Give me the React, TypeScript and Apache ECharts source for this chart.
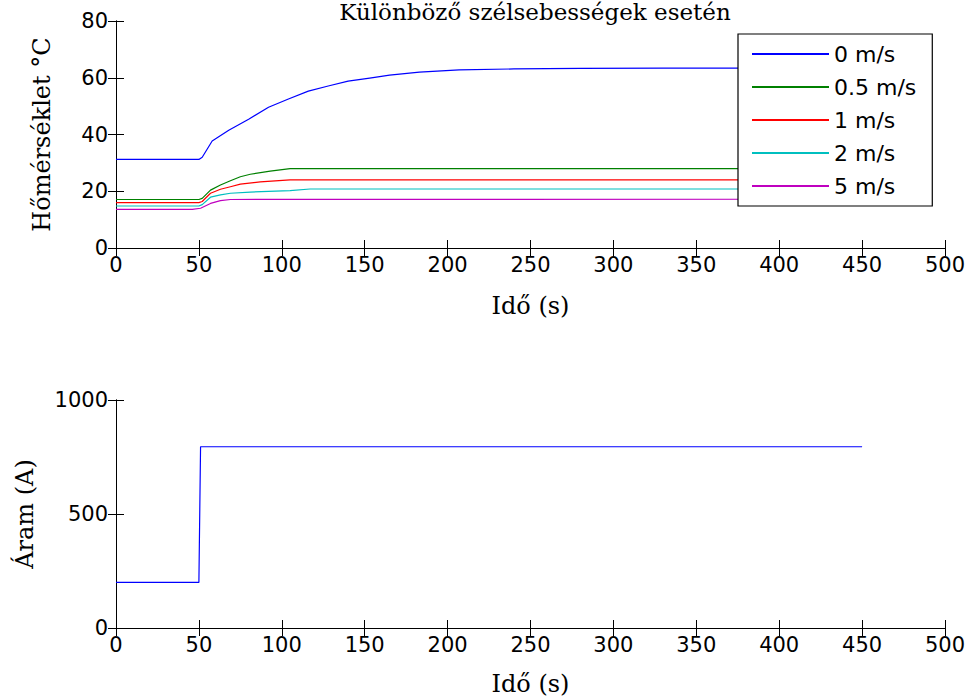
import React, { useEffect, useRef } from "react";
import * as echarts from "echarts";

// ---- Data ----
const titleText = "Különböző szélsebességek esetén";
const seriesNames = ["0 m/s", "0.5 m/s", "1 m/s", "2 m/s", "5 m/s"];
const seriesColors = ["#0000ff", "#008000", "#ff0000", "#00bfbf", "#bf00bf"];

const time0 = [0, 50, 52, 58, 68, 80, 92, 104, 116, 128, 140, 153, 165, 183, 207, 240, 280, 330, 450];
const temp0 = [31.2, 31.2, 32, 37.7, 41.5, 45.4, 49.6, 52.5, 55.3, 57.1, 58.8, 59.9, 60.9, 62.0, 62.8, 63.1, 63.3, 63.4, 63.4];

const time05 = [0, 50, 52, 57, 63, 69, 75, 81, 93, 105, 450];
const temp05 = [17.1, 17.1, 17.5, 20.4, 22.2, 23.7, 25.1, 26.0, 27.1, 28.0, 28.0];

const time1 = [0, 50, 52, 57, 63, 69, 75, 87, 105, 450];
const temp1 = [16.0, 16.0, 16.4, 19.3, 20.7, 21.6, 22.5, 23.3, 24.0, 24.0];

const time2 = [0, 50, 52, 57, 63, 69, 81, 105, 117, 450];
const temp2 = [14.8, 14.8, 15.3, 17.9, 18.7, 19.3, 19.7, 20.2, 20.8, 20.8];

const time5 = [0, 46, 51, 57, 63, 69, 450];
const temp5 = [13.6, 13.6, 14.0, 15.7, 16.7, 17.1, 17.2];

const timeCurrent = [0, 50, 51, 450];
const current = [200, 200, 795, 795];

const xTicks = { min: 0, max: 500, interval: 50 };
const yTempTicks = { min: 0, max: 80, interval: 20 };
const yCurTicks = { min: 0, max: 1000, interval: 500 };

const xName = "Idő (s)";
const yTempName = "Hőmérséklet °C";
const yCurName = "Áram (A)";

const zip = (t: number[], v: number[]) => t.map((x, i) => [x, v[i]]);

const SANS = "DejaVu Sans";
const SERIF = "DejaVu Serif";
const TICK_FS = 21;

function axisBase(extra: any) {
  return {
    type: "value",
    axisLine: { show: true, lineStyle: { color: "#000", width: 1 } },
    axisTick: { show: true, inside: true, length: 8, lineStyle: { color: "#000" } },
    splitLine: { show: false },
    axisLabel: { show: true, color: "#000", fontFamily: SANS, fontSize: TICK_FS },
    ...extra,
  };
}

const plainLabel = (margin: number) => ({
  color: "#000",
  fontFamily: SANS,
  fontSize: TICK_FS,
  margin,
  formatter: (v: number) => String(v),
});

export default function App() {
  const ref = useRef<HTMLDivElement>(null);
  useEffect(() => {
    if (!ref.current) return;
    const chart = echarts.init(ref.current, undefined, { renderer: "svg" });
    const tempSeries = [
      zip(time0, temp0),
      zip(time05, temp05),
      zip(time1, temp1),
      zip(time2, temp2),
      zip(time5, temp5),
    ];
    const option: any = {
      animation: false,
      backgroundColor: "#fff",
      grid: [
        { left: 116, top: 21, width: 829, height: 227 },
        { left: 116, top: 400, width: 829, height: 228 },
      ],
      xAxis: [
        axisBase({
          gridIndex: 0, position: "bottom", ...xTicks,
          axisLabel: plainLabel(6),
          name: xName, nameLocation: "middle", nameGap: 46,
          nameTextStyle: { fontFamily: SERIF, fontSize: 24, color: "#000" },
        }),
        axisBase({ gridIndex: 0, position: "top", ...xTicks, axisLabel: { show: false } }),
        axisBase({
          gridIndex: 1, position: "bottom", ...xTicks,
          axisLabel: plainLabel(6),
          name: xName, nameLocation: "middle", nameGap: 44,
          nameTextStyle: { fontFamily: SERIF, fontSize: 24, color: "#000" },
        }),
        axisBase({ gridIndex: 1, position: "top", ...xTicks, axisLabel: { show: false } }),
      ],
      yAxis: [
        axisBase({
          gridIndex: 0, position: "left", ...yTempTicks,
          axisLabel: plainLabel(8),
          name: yTempName, nameLocation: "middle", nameGap: 62,
          nameTextStyle: { fontFamily: SERIF, fontSize: 24, color: "#000" },
        }),
        axisBase({ gridIndex: 0, position: "right", ...yTempTicks, axisLabel: { show: false } }),
        axisBase({
          gridIndex: 1, position: "left", ...yCurTicks,
          axisLabel: plainLabel(8),
          name: yCurName, nameLocation: "middle", nameGap: 79,
          nameTextStyle: { fontFamily: SERIF, fontSize: 24, color: "#000" },
        }),
        axisBase({ gridIndex: 1, position: "right", ...yCurTicks, axisLabel: { show: false } }),
      ],
      legend: {
        data: seriesNames,
        orient: "vertical",
        left: 738,
        top: 34,
        padding: [8, 16, 8, 14],
        itemGap: 9,
        itemWidth: 77,
        itemHeight: 2,
        icon: "rect",
        borderColor: "#000",
        borderWidth: 1.2,
        backgroundColor: "#fff",
        textStyle: { fontFamily: SANS, fontSize: 22, color: "#000", lineHeight: 24 },
      },
      graphic: [
        {
          type: "text",
          x: 535,
          y: 0,
          style: {
            text: titleText,
            fontFamily: SERIF,
            fontSize: 23,
            fill: "#000",
            align: "center",
            verticalAlign: "top",
          },
        },
      ],
      series: [
        ...tempSeries.map((d, i) => ({
          type: "line",
          name: seriesNames[i],
          xAxisIndex: 0,
          yAxisIndex: 0,
          data: d,
          showSymbol: false,
          symbol: "none",
          lineStyle: { color: seriesColors[i], width: 1.2 },
          itemStyle: { color: seriesColors[i] },
          z: 2,
        })),
        {
          type: "line",
          name: "Áram",
          xAxisIndex: 2,
          yAxisIndex: 2,
          data: zip(timeCurrent, current),
          showSymbol: false,
          symbol: "none",
          lineStyle: { color: "#0000ff", width: 1.2 },
          itemStyle: { color: "#0000ff" },
        },
      ],
    };
    chart.setOption(option);
    return () => chart.dispose();
  }, []);
  return (
    <div
      ref={ref}
      style={{ position: "absolute", left: 0, top: 0, width: 971, height: 700 }}
    />
  );
}
